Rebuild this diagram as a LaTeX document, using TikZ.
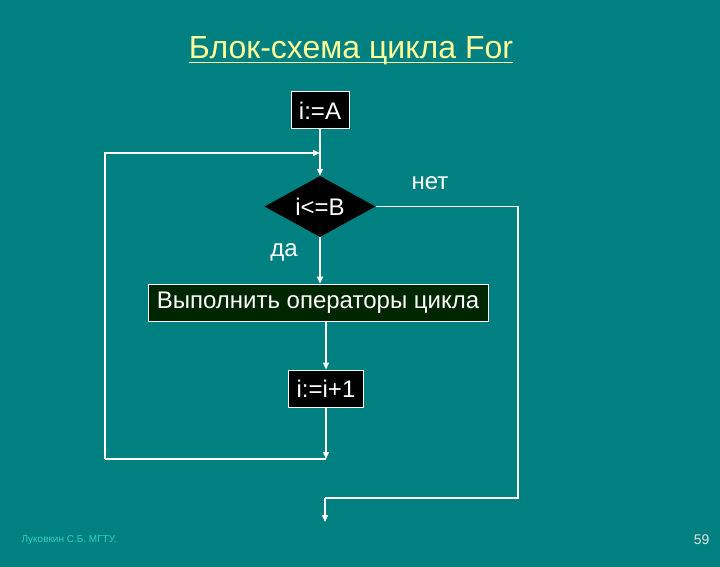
\documentclass[tikz,border=0pt]{standalone}
\usepackage{fontspec}
\setmainfont{Liberation Sans}
\usetikzlibrary{shapes.geometric, arrows.meta, positioning}
\definecolor{slidebg}{HTML}{008080}
\definecolor{titleyel}{HTML}{FFFF99}
\definecolor{bodyfill}{HTML}{002600}
\definecolor{footcyan}{HTML}{33CCCC}
\tikzset{
  %% Process block
  procbox/.style={
    rectangle, draw=white, fill=#1, text=white,
    font=\fontsize{24}{28}\selectfont,
    inner sep=0pt, minimum height=37pt,
    line width=1pt
  },
  procbox/.default=black,
  %% Decision block
  decbox/.style={
    diamond, fill=black, text=white,
    font=\fontsize{24}{28}\selectfont,
    aspect=2, inner sep=0pt,
    minimum width=111pt, minimum height=61pt
  },
  %% Connectors
  flow/.style={-{Triangle[length=7pt,width=6pt]},
               draw=white, line width=1.4pt},
  link/.style={draw=white, line width=1.4pt},
  %% Branch labels
  blabel/.style={text=white, font=\fontsize{24}{28}\selectfont},
}

\begin{document}
\begin{tikzpicture}[x=1pt, y=-1pt]

  %% Slide background
  \fill[slidebg] (0,0) rectangle (720,567);
  \useasboundingbox (0,0) rectangle (720,567);

  %% Title
  \node[inner sep=0pt, anchor=base, text=titleyel,
        font=\fontsize{32}{38}\selectfont]
       (title) at (351,59) {Блок-схема цикла For};
  \draw[titleyel, line width=1.6pt]
       ([yshift=-3.5pt]title.base west) -- ([yshift=-3.5pt]title.base east);

  %% Blocks
  \node[procbox, minimum width=58pt]  (init) at (320,110.5) {i:=A};
  \node[decbox]                       (cond) at (320,206.5) {i<=B};
  \node[procbox=bodyfill, minimum width=340pt]
                                      (body) at (318,302.5)
       {Выполнить операторы цикла};
  \node[procbox, minimum width=75pt]  (incr) at (326,388.5) {i:=i+1};

  %% Helper points
  \coordinate (loopin)     at (320,153);
  \coordinate (back)       at (326,459);
  \coordinate (loopcorner) at (105,459);
  \coordinate (exitturn)   at (518,498);
  \coordinate (exit)       at (325,522);

  %% Main flow
  \draw[flow] (init.south) -- (cond.north);
  \draw[flow] (cond.south) -- (cond.south |- body.north);
  \draw[flow] (incr.north |- body.south) -- (incr.north);
  \draw[flow] (incr.south) -- (back);

  %% Loop back
  \draw[link] (back) -- (loopcorner);
  \draw[flow] (loopcorner) |- (loopin);

  %% Exit branch
  \draw[link] (cond.east) -| (exitturn) -- (exit |- exitturn);
  \draw[flow] (exit |- exitturn) -- (exit);

  %% Branch labels
  \node[blabel] (nolbl)  at (430,183) {нет};
  \node[blabel] (yeslbl) at (284,252) {да};

  %% Footer
  \node[text=footcyan, font=\fontsize{10}{12}\selectfont, anchor=west]
       (author) at (18,540) {Луковкин С.Б. МГТУ.};
  \node[text=white!88!black, font=\fontsize{14}{16}\selectfont, anchor=east]
       (page) at (713,540) {59};

\end{tikzpicture}
\end{document}
